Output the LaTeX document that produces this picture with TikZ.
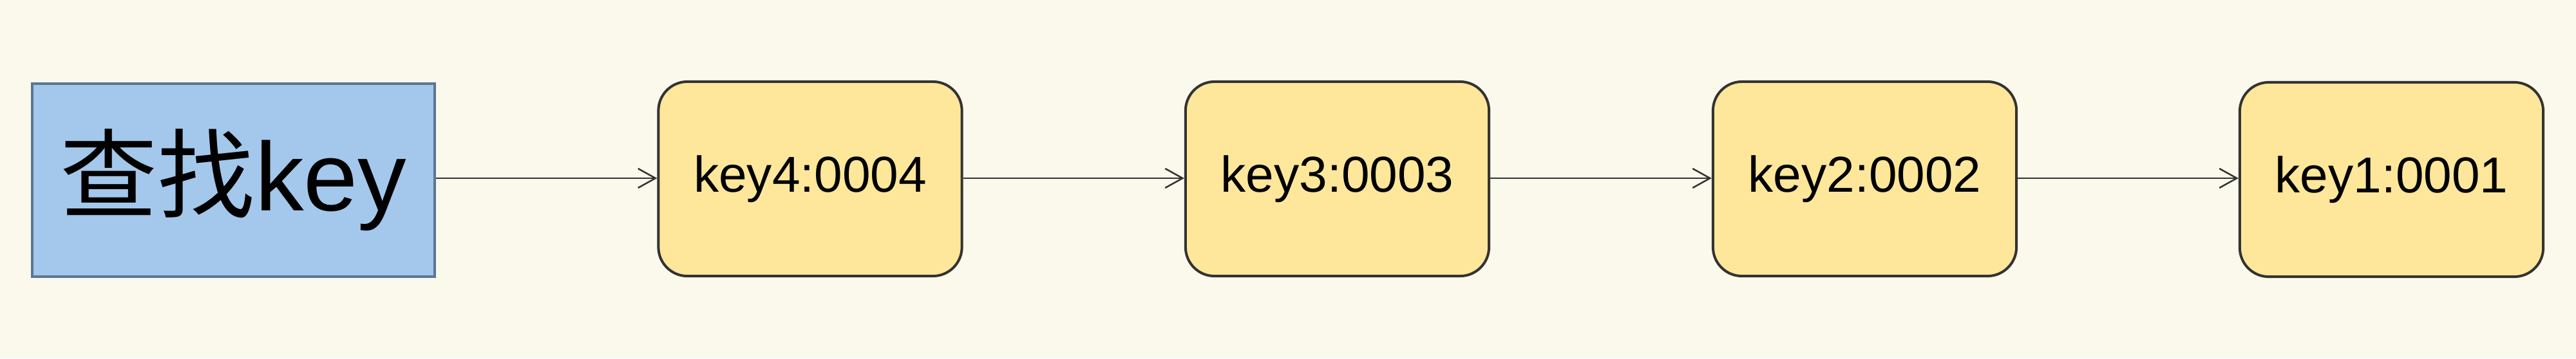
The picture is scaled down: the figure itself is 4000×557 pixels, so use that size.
\documentclass[tikz,border=0pt]{standalone}
\usepackage{fontspec}
\setmainfont{Liberation Sans}
\newfontfamily\cjk{Noto Sans CJK SC}
\usetikzlibrary{arrows.meta}
\definecolor{bgc}{HTML}{FBF8EC}
\definecolor{bluefill}{HTML}{A4C7EC}
\definecolor{blueline}{HTML}{5B7791}
\definecolor{yellowfill}{HTML}{FEE79A}
\definecolor{darkline}{HTML}{333333}
\tikzset{
  startbox/.style={draw=blueline, fill=bluefill, line width=0.04cm, minimum width=6.25cm, minimum height=3.0cm, inner sep=0pt, font=\fontsize{43}{43}\selectfont},
  keybox/.style={draw=darkline, fill=yellowfill, line width=0.04cm, rounded corners=0.45cm, minimum width=4.71cm, minimum height=3.02cm, inner sep=0pt, font=\fontsize{22.3}{22.3}\selectfont},
  link/.style={draw=darkline, line width=0.025cm, -{Straight Barb[length=0.27cm, width=0.30cm, line width=0.025cm]}}
}
\begin{document}
\begin{tikzpicture}[x=0.01cm, y=-0.01cm]
\fill[bgc] (0,0) rectangle (4000,557);
\useasboundingbox (0,0) rectangle (4000,557);
\node[startbox] (s) at (362.5,280) {\raisebox{0.08cm}{{\cjk 查找}key}};
\node[keybox] (k4) at (1258,278) {key4:0004};
\node[keybox] (k3) at (2076.5,278) {key3:0003};
\node[keybox] (k2) at (2895.5,278) {key2:0002};
\node[keybox] (k1) at (3713.5,279) {key1:0001};
\draw[link] (s.east |- 0,277) -- (k4.west |- 0,277);
\draw[link] (k4.east |- 0,277) -- (k3.west |- 0,277);
\draw[link] (k3.east |- 0,277) -- (k2.west |- 0,277);
\draw[link] (k2.east |- 0,277) -- (k1.west |- 0,277);
\end{tikzpicture}
\end{document}
